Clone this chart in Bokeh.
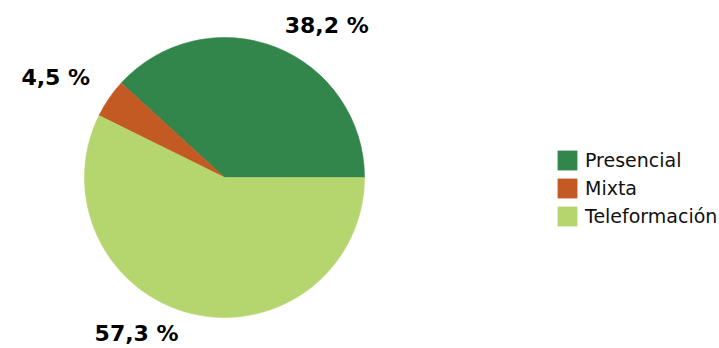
import math
from bokeh.plotting import figure
from bokeh.models import Range1d, ColumnDataSource, Legend, LegendItem
from bokeh.core.properties import value
from bokeh.embed import file_html
from bokeh.resources import INLINE

categories = ["Presencial", "Mixta", "Teleformación"]
percentages = [38.2, 4.5, 57.3]
labels = ["38,2 %", "4,5 %", "57,3 %"]
colors = ["#33864B", "#C45A23", "#B5D66E"]

W, H = 719, 348
p = figure(width=W, height=H, output_backend="svg", toolbar_location=None,
           x_range=Range1d(0, W), y_range=Range1d(0, H),
           min_border=0, outline_line_color=None)
p.axis.visible = False
p.grid.visible = False
p.background_fill_color = "white"
p.border_fill_color = "white"

cx, cy, R = 224, 171, 140
total = sum(percentages)
starts, ends = [], []
acc = 0.0
for v in percentages:
    starts.append(2 * math.pi * acc / total)
    acc += v
    ends.append(2 * math.pi * acc / total)

items = []
for i, cat in enumerate(categories):
    src = ColumnDataSource(dict(x=[cx], y=[cy], s=[starts[i]], e=[ends[i]]))
    r = p.wedge(x="x", y="y", radius=R, start_angle="s", end_angle="e", source=src,
                fill_color=colors[i], line_color=colors[i], line_width=0.6)
    items.append(LegendItem(label=cat, renderers=[r]))

# labels: placed outside each slice along its mid angle, with small nudges (px)
nudges = [(3, -8), (-4, -2), (-10, 10)]
lx, ly, la, lb = [], [], [], []
LR = 158
for i in range(len(categories)):
    mid = (starts[i] + ends[i]) / 2
    c, s = math.cos(mid), math.sin(mid)
    lx.append(cx + LR * c + nudges[i][0])
    ly.append(cy + LR * s + nudges[i][1])
    la.append("left" if c > 0 else "right")
    lb.append("bottom" if s > 0 else "top")
lsrc = ColumnDataSource(dict(x=lx, y=ly, t=labels, a=la, b=lb))
p.text(x="x", y="y", text="t", text_align="a", text_baseline="b", source=lsrc,
       text_font=value("DejaVu Sans"), text_font_style="bold",
       text_font_size="22px", text_color="black")

legend = Legend(items=items, location=(555, 120), orientation="vertical",
                glyph_width=24, glyph_height=24, spacing=4, padding=0, margin=0,
                label_standoff=6, label_text_font="DejaVu Sans",
                label_text_font_size="19px", label_text_color="#111111",
                border_line_color=None, background_fill_alpha=0)
p.add_layout(legend, "center")

open("out.html", "w").write(file_html(p, INLINE))
